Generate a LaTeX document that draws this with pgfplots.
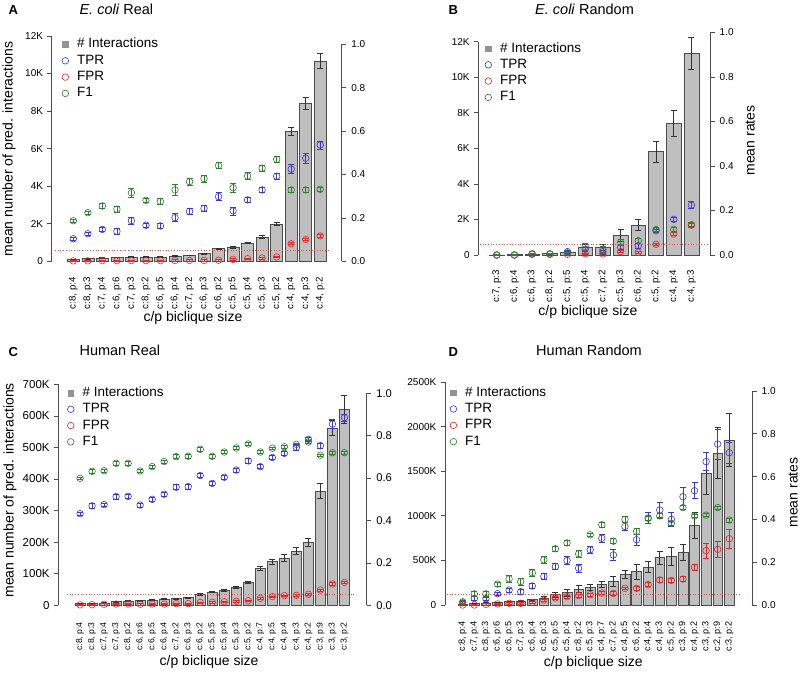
\documentclass[border=0pt]{standalone}
\usepackage{fontspec}
\setmainfont{Liberation Sans}
\usepackage{pgfplots}
\pgfplotsset{compat=1.18}
\usepackage{pgfplotstable}

\definecolor{tprc}{rgb}{0.22,0.22,0.85}
\definecolor{fprc}{rgb}{0.9,0.15,0.15}
\definecolor{f1c}{rgb}{0.18,0.5,0.18}
\definecolor{barc}{gray}{0.75}
\definecolor{barline}{gray}{0.3}
\definecolor{errc}{gray}{0.2}
\definecolor{axc}{gray}{0.3}

% i n ne tpr tpre fpr fpre f1 f1e
\pgfplotstableread{
i n ne tpr tpre fpr fpre f1 f1e
0 100 10 0.104 0.008 0.002 0.003 0.187 0.008
1 140 10 0.127 0.008 0.002 0.003 0.224 0.008
2 180 10 0.147 0.008 0.003 0.003 0.255 0.010
3 200 10 0.138 0.012 0.003 0.003 0.240 0.015
4 230 15 0.187 0.015 0.003 0.003 0.316 0.020
5 230 15 0.166 0.008 0.003 0.003 0.281 0.008
6 240 15 0.163 0.012 0.003 0.003 0.276 0.015
7 290 15 0.201 0.018 0.004 0.003 0.329 0.025
8 320 15 0.230 0.012 0.004 0.003 0.367 0.015
9 410 20 0.244 0.012 0.004 0.003 0.381 0.015
10 670 40 0.298 0.018 0.005 0.003 0.441 0.015
11 760 60 0.232 0.018 0.009 0.003 0.339 0.022
12 980 50 0.283 0.012 0.012 0.003 0.393 0.015
13 1300 60 0.329 0.012 0.015 0.004 0.429 0.015
14 1990 90 0.392 0.015 0.020 0.004 0.470 0.012
15 6940 210 0.425 0.020 0.081 0.005 0.329 0.012
16 8410 310 0.475 0.022 0.101 0.005 0.329 0.012
17 10670 400 0.536 0.018 0.117 0.005 0.332 0.010
}\dataA

\pgfplotstableread{
i n ne tpr tpre fpr fpre f1 f1e
0 10 5 0.000 0.002 0.000 0.002 0.000 0.002
1 20 10 0.000 0.002 0.000 0.002 0.000 0.002
2 55 20 0.005 0.002 0.003 0.002 0.005 0.002
3 90 30 0.005 0.002 0.003 0.002 0.005 0.002
4 170 60 0.015 0.005 0.003 0.002 0.010 0.004
5 410 190 0.026 0.010 0.006 0.003 0.037 0.015
6 410 170 0.015 0.008 0.005 0.003 0.025 0.015
7 1125 340 0.035 0.010 0.015 0.004 0.057 0.015
8 1690 310 0.042 0.012 0.012 0.004 0.064 0.012
9 5810 600 0.109 0.008 0.048 0.004 0.114 0.008
10 7400 720 0.160 0.008 0.094 0.006 0.115 0.010
11 11340 900 0.224 0.015 0.135 0.008 0.135 0.010
}\dataB

\pgfplotstableread{
i n ne tpr tpre fpr fpre f1 f1e
0 5 1 0.432 0.008 0.002 0.003 0.599 0.006
1 6 1 0.469 0.010 0.003 0.003 0.632 0.008
2 8 1 0.475 0.008 0.005 0.003 0.635 0.008
3 11.6 1.5 0.513 0.012 0.006 0.003 0.670 0.010
4 13.7 1.5 0.514 0.010 0.006 0.003 0.670 0.008
5 14.8 1.5 0.473 0.010 0.005 0.003 0.634 0.008
6 17 1.5 0.500 0.010 0.006 0.003 0.654 0.008
7 20 1.5 0.524 0.010 0.006 0.003 0.678 0.008
8 21 1.5 0.557 0.012 0.008 0.003 0.701 0.010
9 24 2 0.560 0.012 0.008 0.003 0.703 0.010
10 35 2 0.612 0.010 0.013 0.003 0.736 0.008
11 42 2 0.575 0.010 0.014 0.003 0.703 0.008
12 47.5 2.5 0.604 0.010 0.017 0.003 0.723 0.008
13 57 3 0.638 0.010 0.019 0.003 0.742 0.008
14 73 4 0.681 0.010 0.022 0.003 0.761 0.008
15 117 6 0.654 0.010 0.033 0.003 0.723 0.008
16 138 8 0.697 0.010 0.041 0.003 0.741 0.006
17 150 10 0.717 0.010 0.046 0.003 0.748 0.006
18 172 11 0.745 0.012 0.047 0.003 0.759 0.006
19 200 13 0.783 0.010 0.052 0.003 0.770 0.006
20 362 24 0.753 0.012 0.072 0.004 0.708 0.006
21 562 24 0.855 0.020 0.101 0.005 0.720 0.006
22 621 44 0.885 0.015 0.108 0.005 0.720 0.006
}\dataC

\pgfplotstableread{
i n ne tpr tpre fpr fpre f1 f1e
0 11 3 0.010 0.005 0.000 0.003 0.015 0.008
1 19 4 0.031 0.008 0.000 0.003 0.052 0.010
2 22 4 0.030 0.008 0.003 0.003 0.052 0.010
3 30 5 0.053 0.008 0.005 0.003 0.098 0.010
4 37 5 0.070 0.010 0.008 0.003 0.122 0.015
5 45 6 0.062 0.010 0.008 0.003 0.109 0.015
6 60 8 0.089 0.012 0.012 0.004 0.150 0.015
7 80 20 0.134 0.012 0.023 0.005 0.211 0.015
8 115 25 0.180 0.015 0.033 0.006 0.263 0.012
9 138 40 0.208 0.020 0.039 0.006 0.290 0.012
10 180 40 0.172 0.020 0.044 0.008 0.239 0.015
11 199 35 0.258 0.015 0.048 0.006 0.328 0.008
12 232 37 0.312 0.020 0.056 0.006 0.375 0.012
13 266 60 0.234 0.025 0.054 0.008 0.298 0.012
14 340 45 0.367 0.020 0.078 0.006 0.400 0.012
15 374 82 0.305 0.025 0.078 0.010 0.344 0.012
16 427 62 0.406 0.025 0.095 0.010 0.406 0.010
17 531 73 0.444 0.034 0.117 0.010 0.416 0.010
18 542 103 0.400 0.033 0.115 0.010 0.382 0.010
19 592 92 0.506 0.042 0.121 0.012 0.455 0.010
20 895 146 0.534 0.037 0.176 0.015 0.416 0.008
21 1478 232 0.670 0.042 0.254 0.035 0.420 0.006
22 1703 286 0.752 0.070 0.260 0.037 0.455 0.006
23 1852 295 0.712 0.050 0.310 0.045 0.397 0.010
}\dataD

\pgfplotsset{
  common/.style={scale only axis, clip=false, ymin=0, tick align=outside,
    major tick length=4.5pt, tick style={axc, line width=0.6pt},
    axis line style={axc, line width=0.6pt},
    scaled y ticks=false, scaled x ticks=false,
    /pgf/number format/assume math mode=true,
    tick label style={font=\fontsize{10}{12}\selectfont}},
  leftax/.style={common, axis y line*=left, axis x line*=bottom,
    x axis line style={draw=none}, xtick style={draw=none},
    yticklabel style={inner sep=0pt}, yticklabel shift=4pt,
    xticklabel style={rotate=90, anchor=east, inner sep=0pt},
    xlabel style={font=\fontsize{14}{16}\selectfont, anchor=center},
    ylabel style={font=\fontsize{14}{16}\selectfont, anchor=center},
    legend cell align=left,
    legend image code/.code={\draw[##1] plot coordinates {(0pt,0pt)};},
    legend style={draw=none, fill=none, anchor=north west, inner sep=0pt,
      font=\fontsize{13.5}{16}\selectfont,
      nodes={inner sep=0pt, text height=10pt, text depth=3pt},
      column sep=8.5pt, row sep=3.3pt}},
  rightax/.style={common, axis y line*=right, axis x line=none, ymax=1,
    ytick={0,0.2,0.4,0.6,0.8,1.0}, yticklabels={0.0,0.2,0.4,0.6,0.8,1.0},
    yticklabel style={inner sep=0pt}, yticklabel shift=5pt,
    ylabel style={font=\fontsize{14}{16}\selectfont, anchor=center}},
  barsty/.style={ybar, fill=barc, draw=barline, line width=0.5pt,
    error bars/y dir=both, error bars/y explicit,
    error bars/error bar style={errc, line width=0.7pt},
    error bars/error mark options={errc, rotate=90, mark size=3pt, line width=0.7pt}},
  ratesty/.style={only marks, mark=o, mark size=3.3pt, line width=0.6pt,
    error bars/y dir=both, error bars/y explicit,
    error bars/error bar style={line width=0.7pt},
    error bars/error mark options={rotate=90, mark size=3pt, line width=0.7pt}},
}

\newcommand{\legendentries}{%
  \addlegendimage{only marks, mark=square*, mark size=2.8pt, color=gray!85}
  \addlegendentry{\# Interactions}
  \addlegendimage{only marks, mark=o, mark size=3.3pt, line width=0.6pt, tprc}
  \addlegendentry{TPR}
  \addlegendimage{only marks, mark=o, mark size=3.3pt, line width=0.6pt, fprc}
  \addlegendentry{FPR}
  \addlegendimage{only marks, mark=o, mark size=3.3pt, line width=0.6pt, f1c}
  \addlegendentry{F1}
}
\newcommand{\rates}[3]{%
  \addplot[tprc, ratesty] table[x=i, y=tpr, y error=tpre] {#1};
  \addplot[fprc, ratesty] table[x=i, y=fpr, y error=fpre] {#1};
  \addplot[f1c, ratesty] table[x=i, y=f1, y error=f1e] {#1};
  \addplot[fprc!80, dotted, line width=0.7pt] coordinates {(#2,0.05) (#3,0.05)};
}

\begin{document}
\begin{tikzpicture}
\useasboundingbox (0pt,0pt) rectangle (800pt,674pt);

% ---------------- Panel A ----------------
\node[anchor=base west, font=\bfseries\fontsize{13}{15}\selectfont] at (5pt,659.7pt) {A};
\node[anchor=base west, font=\fontsize{14.5}{16}\selectfont] at (76pt,659pt) {\textit{E. coli} Real};
\begin{axis}[leftax, at={(51.7pt,412.7pt)}, anchor=south west,
  width=290pt, height=225.3pt, xmin=-1.49, xmax=18.48, ymax=12000,
  ytick={0,2000,4000,6000,8000,10000,12000}, yticklabels={0,2K,4K,6K,8K,10K,12K},
  xtick={0,...,17},
  xticklabels={{c:8, p:4},{c:8, p:3},{c:7, p:4},{c:6, p:6},{c:7, p:3},{c:8, p:2},{c:6, p:5},{c:6, p:4},{c:7, p:2},{c:6, p:3},{c:6, p:2},{c:5, p:5},{c:5, p:4},{c:5, p:3},{c:5, p:2},{c:4, p:4},{c:4, p:3},{c:4, p:2}},
  xticklabel shift=11.5pt,
  xticklabel style={font=\fontsize{9.7}{11}\selectfont},
  xlabel={c/p biclique size}, xlabel style={at={(axis description cs:0.487,-0.252)}},
  ylabel={mean number of pred. interactions}, ylabel style={at={(axis description cs:-0.147,0.498)}},
  legend style={at={(0.035,0.992)}}]
\addplot[barsty, bar width=12.1pt, forget plot] table[x=i, y=n, y error=ne] {\dataA};
\legendentries
\end{axis}
\begin{axis}[rightax, at={(51.7pt,412.7pt)}, anchor=south west,
  width=290pt, height=217pt, xmin=-1.49, xmax=18.48]
\rates{\dataA}{-1.26}{17.53}
\end{axis}

% ---------------- Panel B ----------------
\node[anchor=base west, font=\bfseries\fontsize{13}{15}\selectfont] at (445pt,659.7pt) {B};
\node[anchor=base west, font=\fontsize{14.5}{16}\selectfont] at (531.7pt,659pt) {\textit{E. coli} Random};
\begin{axis}[leftax, at={(478.3pt,419pt)}, anchor=south west,
  width=231.7pt, height=213.3pt, xmin=-1.04, xmax=12.05, ymax=12000,
  ytick={0,2000,4000,6000,8000,10000,12000}, yticklabels={0,2K,4K,6K,8K,10K,12K},
  xtick={0,...,11},
  xticklabel style={font=\fontsize{9.7}{11}\selectfont},
  xticklabels={{c:7, p:3},{c:6, p:4},{c:6, p:3},{c:8, p:2},{c:5, p:5},{c:5, p:4},{c:7, p:2},{c:5, p:3},{c:6, p:2},{c:5, p:2},{c:4, p:4},{c:4, p:3}},
  xticklabel shift=10.8pt,
  xlabel={c/p biclique size}, xlabel style={at={(axis description cs:0.473,-0.267)}},
  legend style={at={(0.028,0.9995)}}]
\addplot[barsty, bar width=14.7pt, forget plot] table[x=i, y=n, y error=ne] {\dataB};
\legendentries
\end{axis}
\begin{axis}[rightax, at={(478.3pt,419pt)}, anchor=south west,
  width=231.7pt, height=222.7pt, xmin=-1.04, xmax=12.05,
  ylabel={mean rates}, ylabel style={at={(axis description cs:1.173,0.514)}}]
\rates{\dataB}{-0.95}{11.96}
\end{axis}

% ---------------- Panel C ----------------
\node[anchor=base west, font=\bfseries\fontsize{13}{15}\selectfont] at (5pt,317.3pt) {C};
\node[anchor=base west, font=\fontsize{14.5}{16}\selectfont] at (76pt,318pt) {Human Real};
\begin{axis}[leftax, at={(58.3pt,68.7pt)}, anchor=south west,
  width=308.4pt, height=221pt, xmin=-1.81, xmax=23.85, ymax=700,
  tick label style={font=\fontsize{11.5}{13}\selectfont},
  ytick={0,100,200,300,400,500,600,700}, yticklabels={0,100K,200K,300K,400K,500K,600K,700K},
  xtick={0,...,22},
  xticklabel style={font=\fontsize{8.6}{10}\selectfont},
  xticklabels={{c:8, p:4},{c:8, p:3},{c:7, p:4},{c:7, p:3},{c:8, p:2},{c:6, p:6},{c:6, p:5},{c:6, p:4},{c:7, p:2},{c:6, p:3},{c:6, p:2},{c:5, p:5},{c:5, p:4},{c:5, p:3},{c:5, p:2},{c:4, p:7},{c:4, p:5},{c:4, p:4},{c:4, p:3},{c:4, p:2},{c:3, p:9},{c:3, p:3},{c:3, p:2}},
  xticklabel shift=12.3pt,
  xlabel={c/p biclique size}, xlabel style={at={(axis description cs:0.489,-0.257)}},
  ylabel={mean number of pred. interactions}, ylabel style={at={(axis description cs:-0.157,0.52)}},
  legend style={at={(0.029,0.991)}}]
\addplot[barsty, bar width=10pt, forget plot] table[x=i, y=n, y error=ne] {\dataC};
\legendentries
\end{axis}
\begin{axis}[rightax, at={(58.3pt,68.7pt)}, anchor=south west,
  tick label style={font=\fontsize{11.2}{13}\selectfont},
  width=308.4pt, height=212pt, xmin=-1.81, xmax=23.85]
\rates{\dataC}{-1.08}{22.9}
\end{axis}

% ---------------- Panel D ----------------
\node[anchor=base west, font=\bfseries\fontsize{13}{15}\selectfont] at (445pt,317.3pt) {D};
\node[anchor=base west, font=\fontsize{14.5}{16}\selectfont] at (532.7pt,318pt) {Human Random};
\begin{axis}[leftax, at={(445pt,69pt)}, anchor=south west,
  width=307pt, height=223pt, xmin=-1.53, xmax=24.96, ymax=2500,
  ytick={0,500,1000,1500,2000,2500}, yticklabels={0,500K,1000K,1500K,2000K,2500K},
  xtick={0,...,23},
  xticklabel style={font=\fontsize{9.1}{10}\selectfont},
  xticklabels={{c:8, p:4},{c:7, p:4},{c:8, p:3},{c:6, p:6},{c:6, p:5},{c:7, p:3},{c:6, p:4},{c:6, p:3},{c:5, p:5},{c:5, p:4},{c:8, p:2},{c:5, p:3},{c:4, p:7},{c:7, p:2},{c:4, p:5},{c:6, p:2},{c:4, p:4},{c:4, p:3},{c:5, p:2},{c:3, p:9},{c:4, p:2},{c:3, p:3},{c:2, p:9},{c:3, p:2}},
  xticklabel shift=12pt,
  xlabel={c/p biclique size}, xlabel style={at={(axis description cs:0.483,-0.26)}},
  legend style={at={(0.016,0.982)}}]
\addplot[barsty, bar width=9.66pt, forget plot] table[x=i, y=n, y error=ne] {\dataD};
\legendentries
\end{axis}
\begin{axis}[rightax, at={(445pt,69pt)}, anchor=south west,
  width=307pt, height=214pt, xmin=-1.53, xmax=24.96,
  ylabel={mean rates}, ylabel style={at={(axis description cs:1.134,0.526)}}]
\rates{\dataD}{-1.35}{23.84}
\end{axis}
\end{tikzpicture}
\end{document}
